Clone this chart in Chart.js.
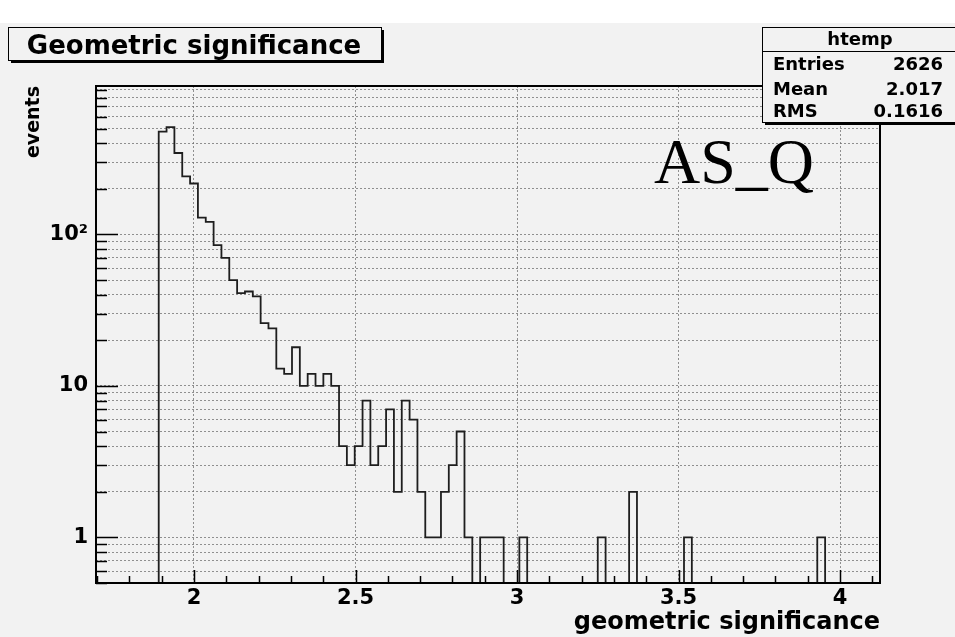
<!DOCTYPE html>
<html>
<head>
<meta charset="utf-8">
<title>Geometric significance</title>
<script src="https://cdn.jsdelivr.net/npm/chart.js@4.4.0/dist/chart.umd.min.js"></script>
<style>
  html, body { margin: 0; padding: 0; background: #fff; }
  #wrap { width: 955px; height: 637px; }
</style>
</head>
<body>
<div id="wrap"><canvas id="myChart" width="955" height="637"></canvas></div>
<script>
// htemp binning
const nBins = 100;
const xMin = 1.6966;
const xMax = 4.1238;

// entries per bin
const counts = [
  0, 0, 0, 0, 0, 0, 0, 0, 478, 511,
  345, 242, 217, 129, 121, 85, 70, 50, 41, 42,
  39, 26, 24, 13, 12, 18, 10, 12, 10, 12,
  10, 4, 3, 4, 8, 3, 4, 7, 2, 8,
  6, 2, 1, 1, 2, 3, 5, 1, 0, 1,
  1, 1, 0, 0, 1, 0, 0, 0, 0, 0,
  0, 0, 0, 0, 1, 0, 0, 0, 2, 0,
  0, 0, 0, 0, 0, 1, 0, 0, 0, 0,
  0, 0, 0, 0, 0, 0, 0, 0, 0, 0,
  0, 0, 1, 0, 0, 0, 0, 0, 0, 0
];

// axes
const xMajorTicks = [2, 2.5, 3, 3.5, 4];
const xTickLabels = ['2', '2.5', '3', '3.5', '4'];
const yMin = 0.5;
const yMax = 955;
const yLabelTicks = [1, 10, 100];
const yTickLabels = ['1', '10', '10²'];

// stat box
const statsTitle = 'htemp';
const statsNames = ['Entries', 'Mean', 'RMS'];
const statsValues = ['2626', '2.017', '0.1616'];

const padColor = '#f2f2f2';
const gridColor = 'rgba(110,110,110,0.75)';
const sans = "'DejaVu Sans', sans-serif";

// empty bins sit under the frame (log axis)
const emptyLevel = 0.1;
const binWidth = (xMax - xMin) / nBins;
const histPoints = [];
counts.forEach((c, i) => {
  histPoints.push({ x: xMin + i * binWidth, y: c > 0 ? c : emptyLevel });
});
histPoints.push({ x: xMax, y: emptyLevel });

// 1..9 x decade, inside the y range
const yGridValues = [];
[0.1, 1, 10, 100].forEach(d => {
  for (let m = 1; m <= 9; m++) {
    const v = Math.round(m * d * 10) / 10;
    if (v >= yMin && v <= yMax) yGridValues.push(v);
  }
});

function drawBox(c, x, y, w, h) {
  c.fillStyle = '#000';
  c.fillRect(x + 3, y + h, w, 3);
  c.fillRect(x + w, y + 3, 3, h);
  c.fillStyle = padColor;
  c.fillRect(x, y, w, h);
  c.strokeStyle = '#000';
  c.lineWidth = 1;
  c.strokeRect(x + 0.5, y + 0.5, w, h);
}

const rootPad = {
  id: 'rootPad',
  beforeDraw(chart) {
    const c = chart.ctx;
    c.save();
    c.fillStyle = '#fff';
    c.fillRect(0, 0, chart.width, chart.height);
    c.fillStyle = padColor;
    c.fillRect(0, 23, chart.width, chart.height - 23);
    c.restore();
  },
  afterDraw(chart) {
    const c = chart.ctx;
    const a = chart.chartArea;
    const xs = chart.scales.x;
    const ys = chart.scales.y;
    c.save();
    c.strokeStyle = '#000';
    c.lineWidth = 1.5;

    // x tick marks, pointing into the frame
    c.beginPath();
    for (let i = 17; i <= 41; i++) {
      const v = i / 10;
      const px = Math.round(xs.getPixelForValue(v)) + 0.5;
      const len = (i % 5 === 0) ? 13 : 7;
      c.moveTo(px, a.bottom);
      c.lineTo(px, a.bottom - len);
    }
    // y tick marks
    yGridValues.forEach(v => {
      const py = Math.round(ys.getPixelForValue(v)) + 0.5;
      const len = yLabelTicks.includes(v) ? 22 : 11;
      c.moveTo(a.left, py);
      c.lineTo(a.left + len, py);
    });
    c.stroke();

    // frame
    c.lineWidth = 2;
    c.strokeRect(a.left, a.top, a.right - a.left, a.bottom - a.top);

    // title box
    drawBox(c, 8, 27, 373, 33);
    c.fillStyle = '#000';
    c.font = 'bold 26px ' + sans;
    c.textAlign = 'center';
    c.textBaseline = 'alphabetic';
    c.fillText('Geometric significance', 194, 54);

    // stat box
    drawBox(c, 762, 27, 200, 95);
    c.beginPath();
    c.lineWidth = 1;
    c.moveTo(762, 51.5);
    c.lineTo(955, 51.5);
    c.stroke();
    c.fillStyle = '#000';
    c.font = 'bold 18px ' + sans;
    c.textAlign = 'center';
    c.fillText(statsTitle, 860, 45);
    const rowY = [70, 95, 117];
    statsNames.forEach((n, i) => {
      c.textAlign = 'left';
      c.fillText(n, 773, rowY[i]);
      c.textAlign = 'right';
      c.fillText(statsValues[i], 943, rowY[i]);
    });

    // sample tag
    c.font = "64px 'Liberation Serif', serif";
    c.textAlign = 'left';
    c.fillText('AS_Q', 654, 183);
    c.restore();
  }
};

const ctx = document.getElementById('myChart').getContext('2d');
const myChart = new Chart(ctx, {
  type: 'line',
  data: {
    datasets: [{
      data: histPoints,
      stepped: 'before',
      borderColor: '#1e1e1e',
      borderWidth: 1.8,
      pointRadius: 0,
      fill: false
    }]
  },
  options: {
    responsive: false,
    animation: false,
    layout: { padding: { top: 86, right: 75, left: 0, bottom: 0 } },
    plugins: {
      legend: { display: false },
      tooltip: { enabled: false }
    },
    scales: {
      x: {
        type: 'linear',
        min: xMin,
        max: xMax,
        afterBuildTicks: s => { s.ticks = xMajorTicks.map(v => ({ value: v })); },
        afterFit: s => { s.height = 54; },
        grid: { color: gridColor, lineWidth: 1, drawTicks: false },
        border: { display: false, dash: [2, 2] },
        ticks: {
          padding: 3,
          autoSkip: false,
          maxRotation: 0,
          color: '#000',
          font: { family: sans, size: 21, weight: 'bold' },
          callback: v => {
            const i = xMajorTicks.indexOf(v);
            return i >= 0 ? xTickLabels[i] : '';
          }
        },
        title: {
          display: true,
          text: 'geometric significance',
          align: 'end',
          color: '#000',
          font: { family: sans, size: 24, weight: 'bold' },
          padding: { top: 0, bottom: 0 }
        }
      },
      y: {
        type: 'logarithmic',
        min: yMin,
        max: yMax,
        afterBuildTicks: s => { s.ticks = yGridValues.map(v => ({ value: v })); },
        afterFit: s => { s.width = 96; },
        grid: { color: gridColor, lineWidth: 1, drawTicks: false },
        border: { display: false, dash: [2, 2] },
        ticks: {
          padding: 8,
          autoSkip: false,
          color: '#000',
          font: { family: sans, size: 21, weight: 'bold' },
          callback: v => {
            const i = yLabelTicks.indexOf(v);
            return i >= 0 ? yTickLabels[i] : '';
          }
        },
        title: {
          display: true,
          text: 'events',
          align: 'end',
          color: '#000',
          font: { family: sans, size: 19, weight: 'bold' },
          padding: { top: 23, bottom: 0 }
        }
      }
    }
  },
  plugins: [rootPad]
});
</script>
</body>
</html>
